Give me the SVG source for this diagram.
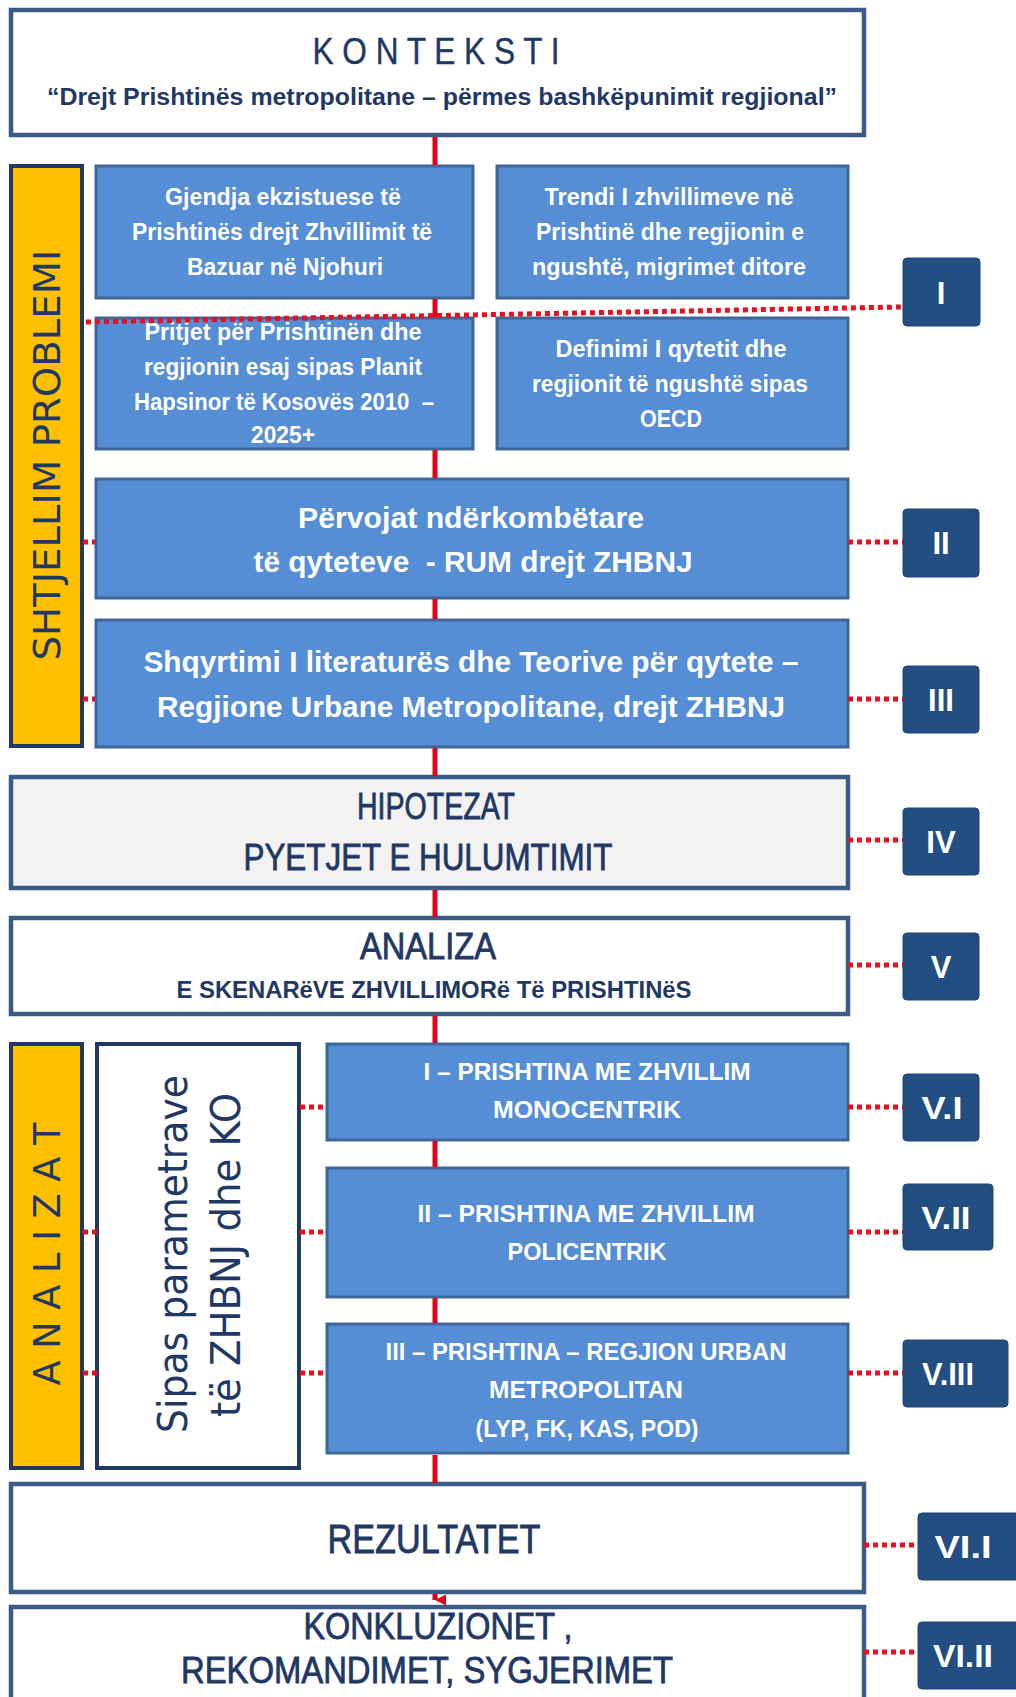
<svg xmlns="http://www.w3.org/2000/svg" width="1016" height="1697" viewBox="0 0 1016 1697">
<defs>
<style>
.blue{fill:#558ed5;stroke:#3e6699;stroke-width:3}
.wbox{fill:#ffffff;stroke:#3b5b86;stroke-width:4.5}
.gbox{fill:#f2f2f2;stroke:#3b5b86;stroke-width:4.5}
.ybar{fill:#ffc000;stroke:#1f3864;stroke-width:4}
.sbox{fill:#ffffff;stroke:#1f3864;stroke-width:4}
.lab{fill:#234e82;stroke:#1f4576;stroke-width:1}
.wt{fill:#ffffff;font-family:"Liberation Sans Narrow","Liberation Sans",Arial,sans-serif;font-weight:bold;text-anchor:middle}
.lt{fill:#ffffff;font-family:"Liberation Sans Narrow","Liberation Sans",Arial,sans-serif;font-weight:bold;font-size:31px;text-anchor:middle}
.nt{fill:#1f3864;stroke:#1f3864;stroke-width:0.8;font-family:"Liberation Sans Narrow","Liberation Sans",Arial,sans-serif;text-anchor:middle}
.nb{fill:#1f3864;font-family:"Liberation Sans Narrow","Liberation Sans",Arial,sans-serif;font-weight:bold;text-anchor:middle}
.vt{fill:#1f3864;font-family:"DejaVu Sans","Liberation Sans",sans-serif;text-anchor:middle}
.dot{stroke:#e8101e;stroke-width:5;stroke-dasharray:5 4;fill:none}
.spine{stroke:#e3001b;stroke-width:5;fill:none}
</style>
<marker id="arr" viewBox="0 0 10 10" refX="5" refY="10" markerWidth="3" markerHeight="2.2" orient="auto-start-reverse" markerUnits="strokeWidth">
<path d="M0,0 L10,0 L5,10 Z" fill="#e3001b"/>
</marker>
</defs>
<rect width="1016" height="1697" fill="#ffffff"/>

<g id="kontektsi">
<rect class="wbox" x="11" y="10" width="853" height="125"/>
<text class="nt" x="436" y="64" font-size="36" style="stroke-width:0.4" textLength="247" lengthAdjust="spacingAndGlyphs">K O N T E K S T I</text>
<text class="nb" x="442" y="105" font-size="23" textLength="790" lengthAdjust="spacingAndGlyphs">“Drejt Prishtinës metropolitane – përmes  bashkëpunimit regjional”</text>
</g>

<g id="shtjellim">
<rect class="ybar" x="11" y="166" width="71" height="580"/>
<text class="vt" x="60" y="455" font-size="38" transform="rotate(-90 60 455)" textLength="411" lengthAdjust="spacingAndGlyphs">SHTJELLIM PROBLEMI</text>
</g>

<g id="gjendja">
<rect class="blue" x="96" y="166" width="377" height="132"/>
<text class="wt" font-size="23" x="283" y="205" textLength="236" lengthAdjust="spacingAndGlyphs">Gjendja ekzistuese të</text>
<text class="wt" font-size="23" x="282" y="240" textLength="300" lengthAdjust="spacingAndGlyphs">Prishtinës drejt Zhvillimit të</text>
<text class="wt" font-size="23" x="285" y="275" textLength="196" lengthAdjust="spacingAndGlyphs">Bazuar në Njohuri</text>
</g>

<g id="trendi">
<rect class="blue" x="497" y="166" width="351" height="132"/>
<text class="wt" font-size="23" x="669" y="205" textLength="249" lengthAdjust="spacingAndGlyphs">Trendi I zhvillimeve në</text>
<text class="wt" font-size="23" x="670" y="240" textLength="268" lengthAdjust="spacingAndGlyphs">Prishtinë dhe regjionin e</text>
<text class="wt" font-size="23" x="669" y="275" textLength="274" lengthAdjust="spacingAndGlyphs">ngushtë, migrimet ditore</text>
</g>

<g id="pritjet">
<rect class="blue" x="96" y="318" width="377" height="131"/>
<text class="wt" font-size="23" x="283" y="340" textLength="277" lengthAdjust="spacingAndGlyphs">Pritjet për Prishtinën dhe</text>
<text class="wt" font-size="23" x="283" y="375" textLength="278" lengthAdjust="spacingAndGlyphs">regjionin esaj sipas Planit</text>
<text class="wt" font-size="23" x="284" y="410" textLength="300" lengthAdjust="spacingAndGlyphs">Hapsinor të Kosovës 2010 &#160;–</text>
<text class="wt" font-size="23" x="283" y="443" textLength="64" lengthAdjust="spacingAndGlyphs">2025+</text>
</g>

<g id="definimi">
<rect class="blue" x="497" y="318" width="351" height="131"/>
<text class="wt" font-size="23" x="671" y="357" textLength="231" lengthAdjust="spacingAndGlyphs">Definimi I qytetit dhe</text>
<text class="wt" font-size="23" x="670" y="392" textLength="276" lengthAdjust="spacingAndGlyphs">regjionit të ngushtë sipas</text>
<text class="wt" font-size="23" x="671" y="427" textLength="62" lengthAdjust="spacingAndGlyphs">OECD</text>
</g>

<g id="pervojat">
<rect class="blue" x="96" y="479" width="752" height="119"/>
<text class="wt" font-size="30" x="471" y="528" textLength="346" lengthAdjust="spacingAndGlyphs">Përvojat ndërkombëtare</text>
<text class="wt" font-size="30" x="473" y="572" textLength="439" lengthAdjust="spacingAndGlyphs">të qyteteve &#160;- RUM drejt ZHBNJ</text>
</g>

<g id="shqyrtimi">
<rect class="blue" x="96" y="620" width="752" height="127"/>
<text class="wt" font-size="30" x="471" y="672" textLength="655" lengthAdjust="spacingAndGlyphs">Shqyrtimi I literaturës dhe Teorive për qytete –</text>
<text class="wt" font-size="30" x="471" y="717" textLength="628" lengthAdjust="spacingAndGlyphs">Regjione Urbane Metropolitane, drejt ZHBNJ</text>
</g>

<g id="hipotezat">
<rect class="gbox" x="11" y="777" width="837" height="111"/>
<text class="nt" font-size="37" x="436" y="819" textLength="158" lengthAdjust="spacingAndGlyphs">HIPOTEZAT</text>
<text class="nt" font-size="37" x="428" y="870" textLength="369" lengthAdjust="spacingAndGlyphs">PYETJET E HULUMTIMIT</text>
</g>

<g id="analiza">
<rect class="wbox" x="11" y="918" width="837" height="96"/>
<text class="nt" font-size="37" x="428" y="959" textLength="136" lengthAdjust="spacingAndGlyphs">ANALIZA</text>
<text class="nb" font-size="24" x="434" y="998" textLength="515" lengthAdjust="spacingAndGlyphs">E SKENARëVE ZHVILLIMORë Të PRISHTINëS</text>
</g>

<g id="analizat">
<rect class="ybar" x="11" y="1044" width="71" height="424"/>
<text class="vt" x="60" y="1254" font-size="38" transform="rotate(-90 60 1254)" textLength="263" lengthAdjust="spacingAndGlyphs">A N A L I Z A T</text>
</g>

<g id="sipas">
<rect class="sbox" x="97" y="1044" width="202" height="424"/>
<text class="vt" font-family="Liberation Sans, Arial, sans-serif" x="187" y="1254" font-size="40" transform="rotate(-90 187 1254)" textLength="358" lengthAdjust="spacingAndGlyphs">Sipas parametrave</text>
<text class="vt" font-family="Liberation Sans, Arial, sans-serif" x="240" y="1255" font-size="40" transform="rotate(-90 240 1255)" textLength="324" lengthAdjust="spacingAndGlyphs">të ZHBNJ dhe KO</text>
</g>

<g id="monocentrik">
<rect class="blue" x="327" y="1044" width="521" height="96"/>
<text class="wt" font-size="24" x="587" y="1080" textLength="327" lengthAdjust="spacingAndGlyphs">I – PRISHTINA ME ZHVILLIM</text>
<text class="wt" font-size="24" x="587" y="1118" textLength="188" lengthAdjust="spacingAndGlyphs">MONOCENTRIK</text>
</g>

<g id="policentrik">
<rect class="blue" x="327" y="1168" width="521" height="129"/>
<text class="wt" font-size="24" x="586" y="1222" textLength="337" lengthAdjust="spacingAndGlyphs">II – PRISHTINA ME ZHVILLIM</text>
<text class="wt" font-size="24" x="587" y="1260" textLength="159" lengthAdjust="spacingAndGlyphs">POLICENTRIK</text>
</g>

<g id="metropolitan">
<rect class="blue" x="327" y="1324" width="521" height="129"/>
<text class="wt" font-size="24" x="586" y="1360" textLength="401" lengthAdjust="spacingAndGlyphs">III – PRISHTINA – REGJION URBAN</text>
<text class="wt" font-size="24" x="586" y="1398" textLength="194" lengthAdjust="spacingAndGlyphs">METROPOLITAN</text>
<text class="wt" font-size="24" x="587" y="1437" textLength="223" lengthAdjust="spacingAndGlyphs">(LYP, FK, KAS, POD)</text>
</g>

<g id="rezultatet">
<rect class="wbox" x="11" y="1484" width="853" height="108"/>
<text class="nt" font-size="41" x="434" y="1553" textLength="213" lengthAdjust="spacingAndGlyphs">REZULTATET</text>
</g>

<g id="konkluzionet">
<rect class="wbox" x="11" y="1607" width="853" height="110"/>
<text class="nt" font-size="37" x="438" y="1639" textLength="269" lengthAdjust="spacingAndGlyphs">KONKLUZIONET ,</text>
<text class="nt" font-size="37" x="427" y="1683" textLength="492" lengthAdjust="spacingAndGlyphs">REKOMANDIMET, SYGJERIMET</text>
</g>

<g id="label-I"><rect class="lab" x="903" y="258" width="77" height="68" rx="4"/><text class="lt" x="941" y="304" font-size="34">I</text></g>
<g id="label-II"><rect class="lab" x="903" y="509" width="76" height="68" rx="4"/><text class="lt" x="941" y="554">II</text></g>
<g id="label-III"><rect class="lab" x="903" y="666" width="76" height="67" rx="4"/><text class="lt" x="941" y="711">III</text></g>
<g id="label-IV"><rect class="lab" x="903" y="808" width="76" height="67" rx="4"/><text class="lt" x="941" y="853">IV</text></g>
<g id="label-V"><rect class="lab" x="903" y="933" width="76" height="67" rx="4"/><text class="lt" x="941" y="978">V</text></g>
<g id="label-VI"><rect class="lab" x="903" y="1074" width="76" height="67" rx="4"/><text class="lt" x="942" y="1119" textLength="41" lengthAdjust="spacingAndGlyphs">V.I</text></g>
<g id="label-VII"><rect class="lab" x="903" y="1184" width="90" height="66" rx="4"/><text class="lt" x="946" y="1229" textLength="49" lengthAdjust="spacingAndGlyphs">V.II</text></g>
<g id="label-VIII"><rect class="lab" x="903" y="1340" width="105" height="67" rx="4"/><text class="lt" x="948" y="1385" textLength="52" lengthAdjust="spacingAndGlyphs">V.III</text></g>
<g id="label-VI-I"><rect class="lab" x="918" y="1513" width="104" height="67" rx="4"/><text class="lt" x="963" y="1558" textLength="57" lengthAdjust="spacingAndGlyphs">VI.I</text></g>
<g id="label-VI-II"><rect class="lab" x="918" y="1622" width="104" height="67" rx="4"/><text class="lt" x="963" y="1667" textLength="60" lengthAdjust="spacingAndGlyphs">VI.II</text></g>

<g id="connectors">
<path class="spine" d="M435,137 V165 M435,299 V317 M435,450 V478 M435,599 V619 M435,748 V776 M435,890 V917 M435,1016 V1043 M435,1141 V1167 M435,1298 V1323 M435,1455 V1483"/>
<line class="spine" x1="435" y1="1594" x2="435" y2="1600" stroke-width="4" marker-end="url(#arr)"/>
<path class="dot" d="M86,322 L902,307"/>
<path class="dot" d="M83,542 H95 M848,542 H903"/>
<path class="dot" d="M83,699 H95 M848,699 H903"/>
<path class="dot" d="M848,840 H903"/>
<path class="dot" d="M848,965 H903"/>
<path class="dot" d="M300,1107 H327 M848,1107 H903"/>
<path class="dot" d="M83,1232 H97 M300,1232 H327 M848,1232 H903"/>
<path class="dot" d="M83,1373 H97 M300,1373 H327 M848,1373 H903"/>
<path class="dot" d="M864,1545 H918"/>
<path class="dot" d="M864,1652 H918"/>
</g>
</svg>
